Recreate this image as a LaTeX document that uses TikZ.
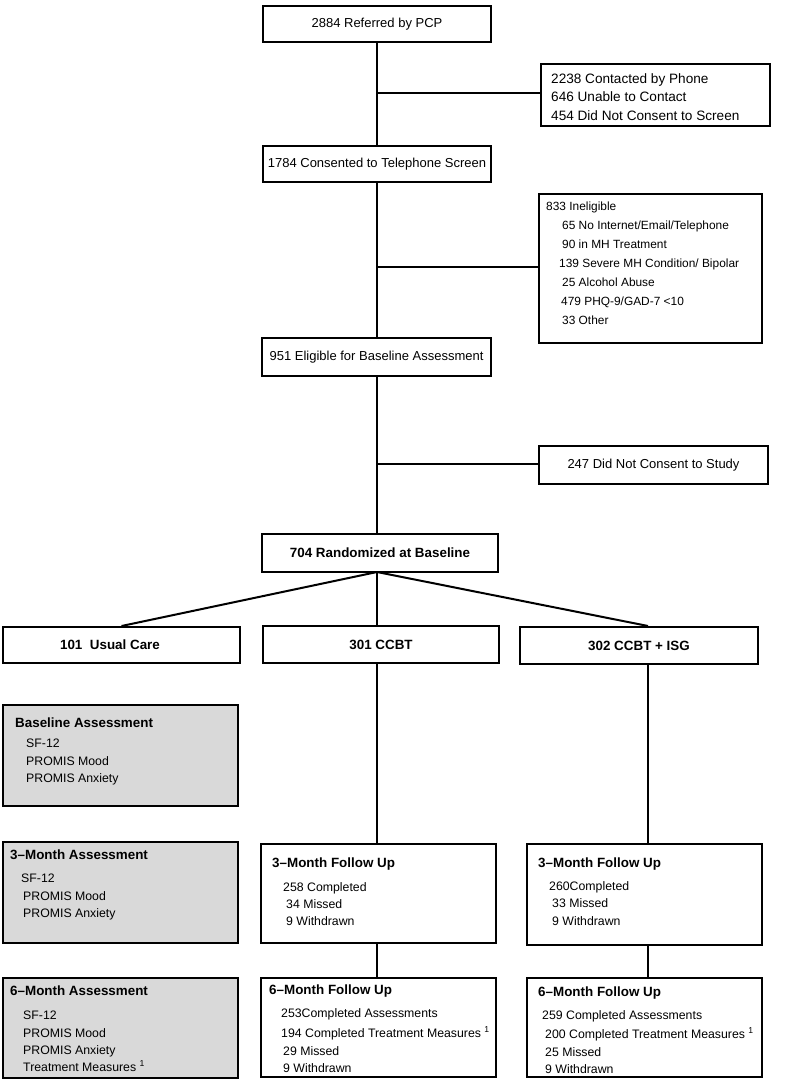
\documentclass[tikz,border=0pt]{standalone}
\usepackage{fontspec}
\setmainfont{Liberation Sans}
\definecolor{boxgray}{RGB}{217,217,217}
\newcommand\ftxtTop{\fontsize{13}{15}\selectfont}
\newcommand\ftxtCon{\fontsize{13.6}{16}\selectfont}
\newcommand\ftxtIne{\fontsize{11.9}{14}\selectfont}
\newcommand\ftxtBold{\fontsize{13.4}{16}\selectfont\bfseries}
\newcommand\ftxtSmall{\fontsize{12.3}{14}\selectfont}
\tikzset{
  box/.style={draw, line width=2pt, inner sep=0pt, fill=white},
  graybox/.style={box, fill=boxgray},
  conn/.style={line width=2pt},
  tl/.style={inner sep=0pt, anchor=base west},
  tcon/.style={tl, font=\ftxtCon},
  tine/.style={tl, font=\ftxtIne},
  thdr/.style={tl, font=\ftxtBold},
  tsm/.style={tl, font=\ftxtSmall},
}
\begin{document}
\begin{tikzpicture}[x=1pt,y=-1pt]
\useasboundingbox (0,0) rectangle (791,1081);

% ---- boxes ----
\node[box, minimum width=228pt, minimum height=36pt, font=\ftxtTop] (ref) at (377,24) {2884 Referred by PCP};
\node[box, minimum width=229pt, minimum height=62pt] (contact) at (655.5,95) {};
\node[box, minimum width=228pt, minimum height=36pt, font=\ftxtTop] (cons) at (377,164) {1784 Consented to Telephone Screen};
\node[box, minimum width=223pt, minimum height=149pt] (inel) at (650.5,268.5) {};
\node[box, minimum width=229pt, minimum height=38pt, font=\ftxtTop] (elig) at (376.5,357) {951 Eligible for Baseline Assessment};
\node[box, minimum width=229pt, minimum height=38pt, font=\ftxtTop] (nocons) at (653.5,465) {247 Did Not Consent to Study};
\node[box, minimum width=236pt, minimum height=38pt, font=\ftxtBold] (rand) at (380,553) {704 Randomized at Baseline};
\node[box, minimum width=237pt, minimum height=36pt] (uc) at (121.5,645) {};
\node[box, minimum width=236pt, minimum height=37pt, font=\ftxtBold] (ccbt) at (381,644.5) {301 CCBT};
\node[box, minimum width=238pt, minimum height=37pt, font=\ftxtBold] (isg) at (639,645.5) {302 CCBT + ISG};

\node[graybox, minimum width=235pt, minimum height=101pt] (base) at (120.5,755.5) {};
\node[graybox, minimum width=235pt, minimum height=101pt] (m3a) at (120.5,892.5) {};
\node[graybox, minimum width=235pt, minimum height=100pt] (m6a) at (120.5,1028) {};
\node[box, minimum width=235pt, minimum height=99pt] (c3) at (378.5,893.5) {};
\node[box, minimum width=235pt, minimum height=99pt] (c6) at (378.5,1027.5) {};
\node[box, minimum width=235pt, minimum height=101pt] (i3) at (644.5,894.5) {};
\node[box, minimum width=235pt, minimum height=99pt] (i6) at (644.5,1027.5) {};

% ---- connectors ----
\coordinate (j1) at (377,93);
\coordinate (j2) at (377,267);
\coordinate (j3) at (377,464);
\coordinate (rb) at (377,572);
\coordinate (rc) at (648,640);
\draw[conn] (ref.south) -- (cons.north);
\draw[conn] (j1) -- (j1 -| contact.west);
\draw[conn] (cons.south) -- (cons.south |- elig.north);
\draw[conn] (j2) -- (j2 -| inel.west);
\draw[conn] (cons.south |- elig.south) -- (cons.south |- rand.north);
\draw[conn] (j3) -- (j3 -| nocons.west);
\draw[conn] (rb) -- (uc.north);
\draw[conn] (rb) -- (rb |- ccbt.north);
\draw[conn] (rb) -- (rc |- isg.north);
\draw[conn] (rb |- ccbt.south) -- (rb |- c3.north);
\draw[conn] (rb |- c3.south) -- (rb |- c6.north);
\draw[conn] (rc |- isg.south) -- (rc |- i3.north);
\draw[conn] (rc |- i3.south) -- (rc |- i6.north);

% ---- texts ----
\node[tcon] (ct1) at (551,83) {2238 Contacted by Phone};
\node[tcon] (ct2) at (551,101.5) {646 Unable to Contact};
\node[tcon] (ct3) at (551,120) {454 Did Not Consent to Screen};

\node[tine] (ie0) at (546,210) {833 Ineligible};
\node[tine] (ie1) at (562,229) {65 No Internet/Email/Telephone};
\node[tine] (ie2) at (562,248) {90 in MH Treatment};
\node[tine] (ie3) at (559,267) {139 Severe MH Condition/ Bipolar};
\node[tine] (ie4) at (562,286) {25 Alcohol Abuse};
\node[tine] (ie5) at (561,305) {479 PHQ-9/GAD-7 <10};
\node[tine] (ie6) at (562,324) {33 Other};

\node[inner sep=0pt, font=\ftxtBold] (uct) at (110,645) {101\ \ Usual Care};

\node[thdr] (bh) at (15,727) {Baseline Assessment};
\node[tsm] (b1) at (26,747) {SF-12};
\node[tsm] (b2) at (26,765) {PROMIS Mood};
\node[tsm] (b3) at (26,782) {PROMIS Anxiety};

\node[thdr] (ah) at (10,859) {3--Month Assessment};
\node[tsm] (a1) at (21,882) {SF-12};
\node[tsm] (a2) at (23,900) {PROMIS Mood};
\node[tsm] (a3) at (23,917) {PROMIS Anxiety};

\node[thdr] (sh) at (10,995) {6--Month Assessment};
\node[tsm] (s1) at (23,1019) {SF-12};
\node[tsm] (s2) at (23,1037) {PROMIS Mood};
\node[tsm] (s3) at (23,1054) {PROMIS Anxiety};
\node[tsm] (s4) at (23,1071) {Treatment Measures \textsuperscript{1}};

\node[thdr] (c3h) at (272,867) {3--Month Follow Up};
\node[tsm] (c31) at (283,891) {258 Completed};
\node[tsm] (c32) at (286,908) {34 Missed};
\node[tsm] (c33) at (286,925) {9 Withdrawn};

\node[thdr] (c6h) at (269,994) {6--Month Follow Up};
\node[tsm] (c61) at (281,1017) {253Completed Assessments};
\node[tsm] (c62) at (281,1037) {194 Completed Treatment Measures \textsuperscript{1}};
\node[tsm] (c63) at (283,1055) {29 Missed};
\node[tsm] (c64) at (283,1072) {9 Withdrawn};

\node[thdr] (i3h) at (538,867) {3--Month Follow Up};
\node[tsm] (i31) at (549,890) {260Completed};
\node[tsm] (i32) at (552,907) {33 Missed};
\node[tsm] (i33) at (552,925) {9 Withdrawn};

\node[thdr] (i6h) at (538,996) {6--Month Follow Up};
\node[tsm] (i61) at (542,1019) {259 Completed Assessments};
\node[tsm] (i62) at (545,1038) {200 Completed Treatment Measures \textsuperscript{1}};
\node[tsm] (i63) at (545,1056) {25 Missed};
\node[tsm] (i64) at (545,1073) {9 Withdrawn};
\end{tikzpicture}
\end{document}
